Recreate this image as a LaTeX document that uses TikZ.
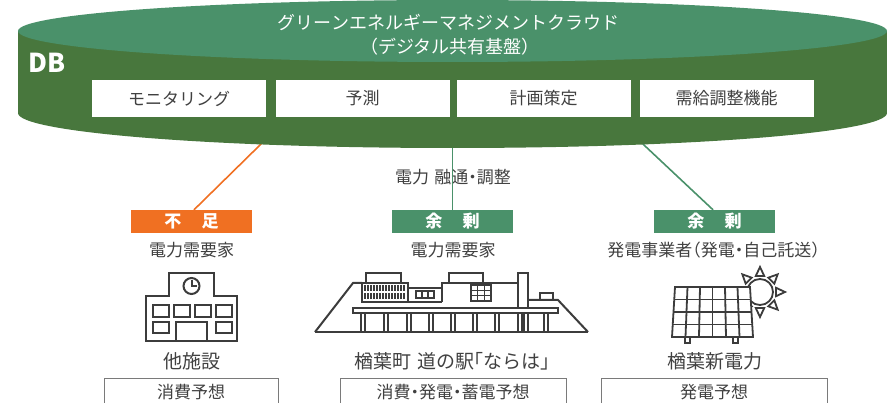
\documentclass[tikz,border=0pt]{standalone}
\usepackage{fontspec}
\newfontfamily\jp{Noto Sans CJK JP}[RawFeature=+halt]
\definecolor{dbtop}{HTML}{4A916A}
\definecolor{dbbody}{HTML}{48773D}
\definecolor{tagg}{HTML}{4A916A}
\definecolor{orng}{HTML}{F07022}
\definecolor{ink}{HTML}{404040}
\definecolor{boxline}{HTML}{7A7A7A}
\definecolor{icon}{HTML}{3C3C3C}
\begin{document}
\begin{tikzpicture}[x=1pt,y=-1pt,
  ttl/.style={font=\jp\fontsize{18}{21}\selectfont, text=white, inner sep=0pt},
  dbl/.style={font=\jp\bfseries\fontsize{26}{28}\selectfont, text=white, inner sep=0pt},
  fn/.style={fill=white, minimum width=174pt, minimum height=37pt, inner sep=0pt,
             font=\jp\fontsize{17}{20}\selectfont, text=ink},
  txt/.style={font=\jp\fontsize{17}{20}\selectfont, text=ink, inner sep=0pt},
  bigtxt/.style={font=\jp\fontsize{19}{22}\selectfont, text=ink, inner sep=0pt},
  tag/.style={minimum width=121pt, minimum height=23pt, inner sep=0pt, text=white,
              font=\jp\bfseries\fontsize{17}{20}\selectfont},
  fc/.style={draw=boxline, line width=1pt, minimum height=28pt, anchor=north,
             inner sep=0pt, font=\jp\fontsize{17}{20}\selectfont, text=ink},
  ico/.style={draw=icon, line width=2pt, line join=miter},
  link/.style={line width=1.6pt}]
\useasboundingbox (0,0) rectangle (887,403);
\clip (0,0) rectangle (887,403);

% connectors from the cloud platform to the three sites
\coordinate (cL) at (270.2,135);
\coordinate (cM) at (452.5,135);
\coordinate (cR) at (633.3,135);
\node[tag, fill=orng] (tagL) at (191.5,221.5) {不\hspace{1.2em}足};
\node[tag, fill=tagg] (tagM) at (452.5,221.5) {余\hspace{1.2em}剰};
\node[tag, fill=tagg] (tagR) at (714.5,221.5) {余\hspace{1.2em}剰};
\node[txt] (flow) at (453,177) {電力\hspace{0.3em}融通・調整};
\draw[link, orng] (cL) -- (tagL.north -| 194,0);
\draw[link, tagg] (cM) -- (tagM.north);
\draw[link, tagg] (cR) -- (tagR.north -| 713,0);

% database cylinder
\fill[dbbody] (18,31) rectangle (887,113);
\fill[dbbody] (452.5,113) ellipse [x radius=434.5, y radius=35];
\fill[dbtop] (452.5,31) ellipse [x radius=434.5, y radius=31];
\node[ttl] (title) at (448.5,22) {グリーンエネルギーマネジメントクラウド};
\node[ttl] (subtitle) at (450,47) {（デジタル共有基盤）};
\node[dbl] (db) at (47,63) {DB};
\node[fn] (mon) at (179,98.5) {モニタリング};
\node[fn] (pred) at (362.5,98.5) {予測};
\node[fn] (plan) at (543.5,98.5) {計画策定};
\node[fn] (adj) at (726.5,98.5) {需給調整機能};

% site headings
\node[txt] (roleL) at (191.5,250) {電力需要家};
\node[txt] (roleM) at (453,250) {電力需要家};
\node[txt] (roleR) at (713.5,250) {発電事業者（発電・自己託送）};

% school building
\begin{scope}[ico]
  \draw (146,341) -- (146,296) -- (169,296) -- (169,273) -- (214,273) -- (214,296)
        -- (237,296) -- (237,341) -- cycle;
  \draw (191.5,286) circle[radius=8];
  \draw (191.5,280.5) -- (191.5,286) -- (197,286);
  \foreach \x in {153,174,195,216} \draw (\x,305) rectangle ++(16,12);
  \draw (153,322) rectangle ++(16,11);
  \draw (216,322) rectangle ++(16,11);
  \draw (176,341) -- (176,322) -- (207,322) -- (207,341);
\end{scope}

% roadside station
\begin{scope}[ico]
  \draw (315,332) -- (588,332);
  \draw (315,332) -- (353,283) -- (362,283);
  \draw (528,300) -- (558,300) -- (588,332);
  \draw (362,283) rectangle (408,302);
  \foreach \x in {365,368,...,405} {
    \draw[line width=1.1pt] (\x,285.5) -- (\x,291.5);
    \draw[line width=1.1pt] (\x,293.5) -- (\x,299.5);
  }
  \draw (366,273) rectangle (401,283);
  \draw (408,288) -- (442,288);
  \draw (408,302) -- (442,302);
  \draw (416,291) rectangle (434,298);
  \draw[line width=1.4pt] (422,291) -- (422,298) (428,291) -- (428,298);
  \draw (442,302) -- (442,283) -- (518,283);
  \draw (449,273) rectangle (483,283);
  \draw (471,285) rectangle (491,301);
  \draw[line width=1.4pt] (477.7,285) -- (477.7,301) (484.3,285) -- (484.3,301)
        (471,290.3) -- (491,290.3) (471,295.7) -- (491,295.7);
  \draw (518,273) rectangle (528,308);
  \draw (540,293) rectangle (553,300);
  \draw[fill=white] (353,308) rectangle (558,313);
  \foreach \x in {361,384,407,429,451,473,495,518,524,544}
    \draw (\x,313) rectangle ++(4,19);
\end{scope}

% solar panel with sun
\begin{scope}[ico, line width=1.8pt]
  \begin{scope}[shift={(760,292)}]
    \draw (0,0) circle[radius=13];
    \foreach \a in {0,45,...,315}
      \draw (\a-15:16.5) -- (\a:25) -- (\a+15:16.5) -- cycle;
  \end{scope}
  \draw[fill=white] (675,287) -- (750,287) -- (753,337) -- (672,337) -- cycle;
  \foreach \i in {1,...,5}
    \draw (675+\i*12.5,287) -- (672+\i*13.5,337);
  \foreach \j in {1,2,3}
    \draw (675-\j*0.75,287+\j*12.5) -- (750+\j*0.75,287+\j*12.5);
  \draw (685,337) rectangle (690,343);
  \draw (733,337) rectangle (738,343);
\end{scope}

% site names
\node[bigtxt] (nameL) at (191.5,361) {他施設};
\node[bigtxt] (nameM) at (452.5,361) {楢葉町\hspace{0.3em}道の駅「ならは」};
\node[bigtxt] (nameR) at (714.5,361) {楢葉新電力};

% forecast boxes
\node[fc, minimum width=174pt] (fcL) at (191,378) {消費予想};
\node[fc, minimum width=226pt] (fcM) at (453,378) {消費・発電・蓄電予想};
\node[fc, minimum width=226pt] (fcR) at (714,378) {発電予想};
\end{tikzpicture}
\end{document}
